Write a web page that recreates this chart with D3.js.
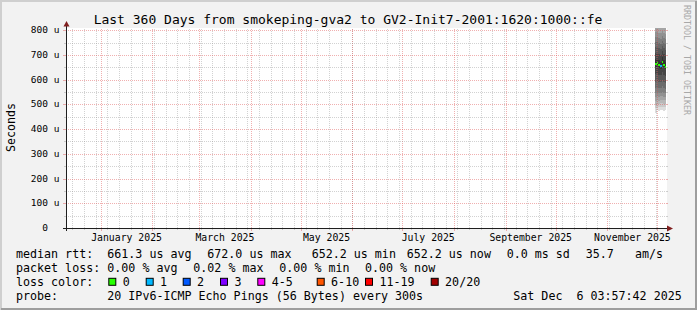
<!DOCTYPE html>
<html>
<head>
<meta charset="utf-8">
<script src="https://cdn.jsdelivr.net/npm/d3@7"></script>
<style>
  html, body { margin: 0; padding: 0; background: #f2f2f2; }
  svg { display: block; }
  text { font-family: "DejaVu Sans Mono", monospace; white-space: pre; }
</style>
</head>
<body>
<div id="chart"></div>
<script>
// ---- data ----
const titleText = "Last 360 Days from smokeping-gva2 to GV2-Init7-2001:1620:1000::fe";
const endTime = "2025-12-06T03:57:42Z";
const spanDays = 360;
const yMax = 809;                       // microseconds at top of canvas
const yTicks = [0, 100, 200, 300, 400, 500, 600, 700, 800];
const yMinorTicks = [50, 150, 250, 350, 450, 550, 650, 750];
const monthLabels = ["2025-01-01", "2025-03-01", "2025-05-01", "2025-07-01", "2025-09-01", "2025-11-01"];

// one bucket per day, 20 sorted pings each (us)
const bucketStart = ["2025-11-29T12:00:00Z", "2025-11-30T12:00:00Z", "2025-12-01T12:00:00Z",
  "2025-12-02T12:00:00Z", "2025-12-03T12:00:00Z", "2025-12-04T12:00:00Z", "2025-12-05T12:00:00Z"];
const bucketHours = 24;
const pings = [
  [466, 484, 499, 514, 529, 545, 566, 592, 622, 652, 682, 707, 732, 752, 772, 792, 816, 850, 900, 1000],
  [476, 490, 503, 517, 532, 548, 568, 593, 623, 654, 684, 709, 733, 753, 773, 793, 818, 852, 905, 1010],
  [474, 488, 501, 515, 530, 546, 565, 590, 619, 648, 678, 703, 728, 748, 768, 788, 812, 846, 896, 990],
  [478, 491, 504, 518, 532, 547, 566, 589, 617, 645, 672, 698, 724, 745, 766, 787, 811, 845, 895, 980],
  [476, 490, 504, 519, 535, 552, 573, 599, 629, 660, 690, 714, 738, 757, 776, 796, 820, 855, 910, 1020],
  [475, 489, 502, 516, 531, 547, 566, 591, 620, 650, 680, 705, 730, 750, 770, 790, 814, 848, 898, 995],
  [477, 490, 503, 516, 530, 545, 563, 587, 615, 643, 672, 697, 722, 743, 764, 785, 809, 843, 892, 970]
];
const medianRtt = [664, 666, 660, 656, 672, 660, 652.2];
const lossCount = [0, 0, 0, 1, 0, 0, 0];

const lossLabels = ["0", "1", "2", "3", "4-5", "6-10", "11-19", "20/20"];
const lossUpper = [0, 1, 2, 3, 5, 10, 19, 20];
const lossColors = ["#26ff00", "#00b8ff", "#0059ff", "#7e00ff", "#ff00ff", "#ff5500", "#ff0000", "#a10000"];

const rttStats = ["661.3 us avg", "672.0 us max", "652.2 us min", "652.2 us now", "0.0 ms sd", "35.7", "am/s"];
const lossStats = ["0.00 % avg", "0.02 % max", "0.00 % min", "0.00 % now"];
const probeText = "20 IPv6-ICMP Echo Pings (56 Bytes) every 300s";
const stampText = "Sat Dec  6 03:57:42 2025";

// ---- layout ----
const W = 697, H = 310;
const X0 = 66, X1 = 666, Y0 = 228, Y1 = 28;
const rttX = [107.3, 207.3, 311.7, 406.7, 506.7, 585.7, 635];
const lossX = [107.3, 193.3, 279.3, 365];
const swatchX = [108.3, 145.7, 182.7, 220, 257.3, 316.7, 365, 430.7];
const rowY = [258, 272.3, 286.3, 300.3];

const end = new Date(endTime);
const start = new Date(end.getTime() - spanDays * 864e5);

const x = d3.scaleUtc().domain([start, end]).range([X0, X1]);
const y = d3.scaleLinear().domain([0, yMax]).range([Y0, Y1]);

const svg = d3.select("#chart").append("svg")
  .attr("width", W).attr("height", H);

svg.append("rect").attr("width", W).attr("height", H).attr("fill", "#f2f2f2");
svg.append("rect").attr("x", X0).attr("y", Y1).attr("width", X1 - X0 + 1).attr("height", Y0 - Y1)
  .attr("fill", "#ffffff");

svg.append("clipPath").attr("id", "cv").append("rect")
  .attr("x", X0).attr("y", Y1).attr("width", X1 - X0).attr("height", Y0 - Y1);

// smoke: 10 nested bands, outer light to inner dark
const smoke = svg.append("g").attr("clip-path", "url(#cv)").attr("shape-rendering", "crispEdges");
const half = 10;
pings.forEach((p, i) => {
  const t0 = new Date(bucketStart[i]);
  const t1 = new Date(t0.getTime() + bucketHours * 36e5);
  for (let ibot = 1; ibot <= half; ibot++) {
    const lo = p[ibot - 1], hi = p[p.length - ibot];
    const c = Math.floor(190 / half * (half - ibot)) + 50;
    smoke.append("rect")
      .attr("x", x(t0)).attr("width", x(t1) - x(t0))
      .attr("y", y(hi)).attr("height", y(lo) - y(hi))
      .attr("fill", d3.rgb(c, c, c));
  }
});

// median coloured by loss
medianRtt.forEach((m, i) => {
  const t0 = new Date(bucketStart[i]);
  const t1 = new Date(t0.getTime() + bucketHours * 36e5);
  const li = lossUpper.findIndex(u => lossCount[i] <= u);
  smoke.append("rect")
    .attr("x", x(t0)).attr("width", x(t1) - x(t0))
    .attr("y", y(m) - 1).attr("height", 2)
    .attr("fill", lossColors[li]);
});

// grid (drawn over the data like rrdtool)
const grid = svg.append("g");
const minorCol = "rgba(143,143,143,0.4)";
const majorCol = "rgba(222,79,79,0.45)";

d3.utcSunday.range(start, end).forEach(d => {
  const px = Math.round(x(d)) + 0.5;
  grid.append("line").attr("x1", px).attr("x2", px).attr("y1", Y0).attr("y2", Y1)
    .attr("stroke", minorCol).attr("stroke-dasharray", "1,1");
  grid.append("line").attr("x1", px).attr("x2", px).attr("y1", Y0).attr("y2", Y0 + 2)
    .attr("stroke", minorCol);
});
d3.utcMonth.range(start, end).forEach(d => {
  const px = Math.round(x(d)) + 0.5;
  grid.append("line").attr("x1", px).attr("x2", px).attr("y1", Y0).attr("y2", Y1)
    .attr("stroke", majorCol).attr("stroke-dasharray", "1,1");
  grid.append("line").attr("x1", px).attr("x2", px).attr("y1", Y0).attr("y2", Y0 + 3)
    .attr("stroke", majorCol);
});
yMinorTicks.forEach(v => {
  const py = Math.round(y(v)) + 0.5;
  grid.append("line").attr("x1", X0).attr("x2", X1).attr("y1", py).attr("y2", py)
    .attr("stroke", minorCol).attr("stroke-dasharray", "1,1");
  grid.append("line").attr("x1", X0 - 2).attr("x2", X0).attr("y1", py).attr("y2", py)
    .attr("stroke", minorCol);
  grid.append("line").attr("x1", X1).attr("x2", X1 + 2).attr("y1", py).attr("y2", py)
    .attr("stroke", minorCol);
});
yTicks.forEach(v => {
  const py = Math.round(y(v)) + 0.5;
  grid.append("line").attr("x1", X0).attr("x2", X1).attr("y1", py).attr("y2", py)
    .attr("stroke", majorCol).attr("stroke-dasharray", "1,1");
  grid.append("line").attr("x1", X0 - 3).attr("x2", X0).attr("y1", py).attr("y2", py)
    .attr("stroke", majorCol);
  grid.append("line").attr("x1", X1).attr("x2", X1 + 2).attr("y1", py).attr("y2", py)
    .attr("stroke", majorCol);
});

// axes + arrows
svg.append("line").attr("x1", X0 - 3).attr("x2", X1 + 4).attr("y1", Y0 + 0.5).attr("y2", Y0 + 0.5)
  .attr("stroke", "#1f1f1f");
svg.append("line").attr("x1", X0 + 0.5).attr("x2", X0 + 0.5).attr("y1", Y0 + 3).attr("y2", Y1 - 2)
  .attr("stroke", "#1f1f1f");
svg.append("path").attr("d", `M${X1 + 7},${Y0 + 0.5}L${X1 + 1},${Y0 - 2.5}L${X1 + 1},${Y0 + 3.5}Z`)
  .attr("fill", "#801f1f");
svg.append("path").attr("d", `M${X0 + 0.5},${Y1 - 7}L${X0 - 2.5},${Y1 - 1.5}L${X0 + 3.5},${Y1 - 1.5}Z`)
  .attr("fill", "#801f1f");

// y tick labels
yTicks.forEach(v => {
  svg.append("text").attr("x", 48).attr("y", y(v) + 3)
    .attr("text-anchor", "end").attr("font-size", 9.5).text(v);
  if (v !== 0) svg.append("text").attr("x", 53.7).attr("y", y(v) + 3)
    .attr("font-size", 9.5).text("u");
});

// month labels, centred on the month
const fmtMonth = d3.utcFormat("%B %Y");
monthLabels.forEach(s => {
  const d = new Date(s + "T00:00:00Z");
  const cx = (x(d) + x(d3.utcMonth.offset(d, 1))) / 2;
  svg.append("text").attr("x", cx).attr("y", 241)
    .attr("text-anchor", "middle").attr("font-size", 9.8).text(fmtMonth(d));
});

// title, y label, watermark
svg.append("text").attr("x", 348).attr("y", 24).attr("text-anchor", "middle")
  .attr("font-size", 13).text(titleText);
svg.append("text").attr("transform", "translate(14.5,127.5) rotate(-90)")
  .attr("text-anchor", "middle").attr("font-size", 11.6).text("Seconds");
svg.append("text").attr("transform", "translate(684,5) rotate(90)")
  .attr("font-size", 8.3).attr("fill", "#a8a8a8").text("RRDTOOL / TOBI OETIKER");

// legend
const lf = 11.66;
const leg = svg.append("g").attr("font-size", lf);
leg.append("text").attr("x", 16).attr("y", rowY[0]).text("median rtt:");
rttStats.forEach((s, i) => leg.append("text").attr("x", rttX[i]).attr("y", rowY[0]).text(s));
leg.append("text").attr("x", 16).attr("y", rowY[1]).text("packet loss:");
lossStats.forEach((s, i) => leg.append("text").attr("x", lossX[i]).attr("y", rowY[1]).text(s));
leg.append("text").attr("x", 16).attr("y", rowY[2]).text("loss color:");
lossLabels.forEach((s, i) => {
  leg.append("rect").attr("x", swatchX[i] + 0.5).attr("y", rowY[2] - 8)
    .attr("width", 7).attr("height", 7)
    .attr("fill", lossColors[i]).attr("stroke", "#000").attr("stroke-width", 1);
  leg.append("text").attr("x", swatchX[i] + 14.4).attr("y", rowY[2]).text(s);
});
leg.append("text").attr("x", 16).attr("y", rowY[3]).text("probe:");
leg.append("text").attr("x", 107.3).attr("y", rowY[3]).text(probeText);
leg.append("text").attr("x", 513.3).attr("y", rowY[3]).text(stampText);

// frame
svg.append("path").attr("d", `M1,${H}V1H${W}`).attr("fill", "none")
  .attr("stroke", "#cfcfcf").attr("stroke-width", 2);
svg.append("path").attr("d", `M1,${H - 1}H${W - 1}V1`).attr("fill", "none")
  .attr("stroke", "#9e9e9e").attr("stroke-width", 2);
</script>
</body>
</html>
